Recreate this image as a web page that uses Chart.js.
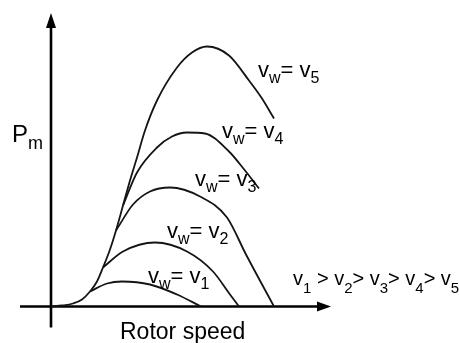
<!DOCTYPE html>
<html>
<head>
<meta charset="utf-8">
<script src="https://cdn.jsdelivr.net/npm/chart.js@4.4.1/dist/chart.umd.min.js"></script>
<style>
  html, body { margin: 0; padding: 0; background: #fff; }
  #wrap { width: 459px; height: 343px; }
</style>
</head>
<body>
<div id="wrap"><canvas id="powerCurveChart"></canvas></div>
<script>
// Rotor speed (x) vs mechanical power Pm (y), arbitrary units, origin where the axes cross
const speedV1 = [39, 56, 71, 99, 126, 150];
const powerV1 = [15, 23, 25, 22, 12, 0];

const speedV2 = [52, 72, 104, 136, 162, 179, 188];
const powerV2 = [39, 55, 64, 55, 35, 12, 0];

const speedV3 = [65, 82, 99, 119, 149, 176, 195, 223];
const powerV3 = [76, 102, 115, 119, 110, 89, 52, 0];

const speedV4 = [72, 86, 106, 121, 136, 154, 178, 194, 208];
const powerV4 = [101, 134, 159, 170, 174, 173, 155, 136, 118];

// the v5 curve also carries the common rising branch from the origin
const speedV5 = [0, 11, 22, 31, 39, 46, 52, 59, 65, 72, 79, 86, 94, 106, 126, 141, 156, 178, 198, 211, 223];
const powerV5 = [0, 1, 3, 7, 15, 25, 39, 57, 76, 101, 126, 149, 176, 206, 239, 254, 260, 251, 226, 208, 188];

const windLabels = ['1', '2', '3', '4', '5'];

// where each text sits, in data units (left edge, baseline)
const curveLabelPos = [[97, 23.5], [116, 68.5], [144, 120.5], [171, 168.5], [207, 229.5]];
const orderLabelPos = [242, 21.5];
const yTitlePos = [-39, 164.5];
const xTitlePos = [69, -32.5];

const FONT = "'Liberation Sans', Arial, sans-serif";

const toPoints = (xs, ys) => xs.map((v, i) => ({ x: v, y: ys[i] }));

const curve = (label, xs, ys) => ({
    label: label,
    data: toPoints(xs, ys),
    borderColor: '#151515',
    borderWidth: 1.8,
    pointRadius: 0,
    fill: false,
    cubicInterpolationMode: 'monotone'
});

// text with subscripts: parts = [[text, isSub], ...]
function drawRich(ctx, parts, px, py, size, subSize, subDrop) {
    let cx = px;
    parts.forEach(([t, sub]) => {
        ctx.font = (sub ? subSize : size) + 'px ' + FONT;
        ctx.fillText(t, cx, sub ? py + subDrop : py);
        cx += ctx.measureText(t).width;
    });
}

const sketchPlugin = {
    id: 'sketch',
    beforeDatasetsDraw(chart) {
        const { ctx, chartArea: area, scales: { x, y } } = chart;
        const x0 = x.getPixelForValue(0);
        const y0 = y.getPixelForValue(0);
        ctx.save();
        ctx.strokeStyle = '#000';
        ctx.fillStyle = '#000';
        ctx.lineWidth = 2.6;
        // horizontal axis
        ctx.beginPath();
        ctx.moveTo(area.left, y0);
        ctx.lineTo(area.right - 10, y0);
        ctx.stroke();
        ctx.beginPath();
        ctx.moveTo(area.right, y0);
        ctx.lineTo(area.right - 14, y0 - 5);
        ctx.lineTo(area.right - 14, y0 + 5);
        ctx.closePath();
        ctx.fill();
        // vertical axis
        ctx.beginPath();
        ctx.moveTo(x0, area.bottom);
        ctx.lineTo(x0, area.top + 10);
        ctx.stroke();
        ctx.beginPath();
        ctx.moveTo(x0, area.top);
        ctx.lineTo(x0 - 5, area.top + 15);
        ctx.lineTo(x0 + 5, area.top + 15);
        ctx.closePath();
        ctx.fill();
        ctx.restore();
    },
    afterDatasetsDraw(chart) {
        const { ctx, scales: { x, y } } = chart;
        const at = (p) => [x.getPixelForValue(p[0]), y.getPixelForValue(p[1])];
        ctx.save();
        ctx.fillStyle = '#000';
        ctx.textAlign = 'left';
        ctx.textBaseline = 'alphabetic';

        windLabels.forEach((n, i) => {
            const [px, py] = at(curveLabelPos[i]);
            drawRich(ctx, [['v', false], ['w', true], ['= v', false], [n, true]], px, py, 22, 16, 6);
        });

        const order = [];
        windLabels.forEach((n, i) => {
            order.push(['v', false], [n, true]);
            if (i < windLabels.length - 1) order.push([i === 0 ? ' > ' : '> ', false]);
        });
        let [ox, oy] = at(orderLabelPos);
        drawRich(ctx, order, ox, oy, 20, 15, 8);

        [ox, oy] = at(yTitlePos);
        drawRich(ctx, [['P', false], ['m', true]], ox, oy, 24, 18, 7);

        [ox, oy] = at(xTitlePos);
        drawRich(ctx, [['Rotor speed', false]], ox, oy, 23, 17, 6);
        ctx.restore();
    }
};

new Chart(document.getElementById('powerCurveChart'), {
    type: 'line',
    data: {
        datasets: [
            curve('vw = v1', speedV1, powerV1),
            curve('vw = v2', speedV2, powerV2),
            curve('vw = v3', speedV3, powerV3),
            curve('vw = v4', speedV4, powerV4),
            curve('vw = v5', speedV5, powerV5)
        ]
    },
    options: {
        responsive: true,
        maintainAspectRatio: false,
        animation: false,
        layout: {
            padding: { left: 20, right: 128, top: 13, bottom: 15.5 }
        },
        plugins: {
            legend: { display: false },
            title: { display: false },
            tooltip: { enabled: false }
        },
        scales: {
            x: { type: 'linear', min: -31, max: 280, display: false },
            y: { type: 'linear', min: -21, max: 293.5, display: false }
        }
    },
    plugins: [sketchPlugin]
});
</script>
</body>
</html>
